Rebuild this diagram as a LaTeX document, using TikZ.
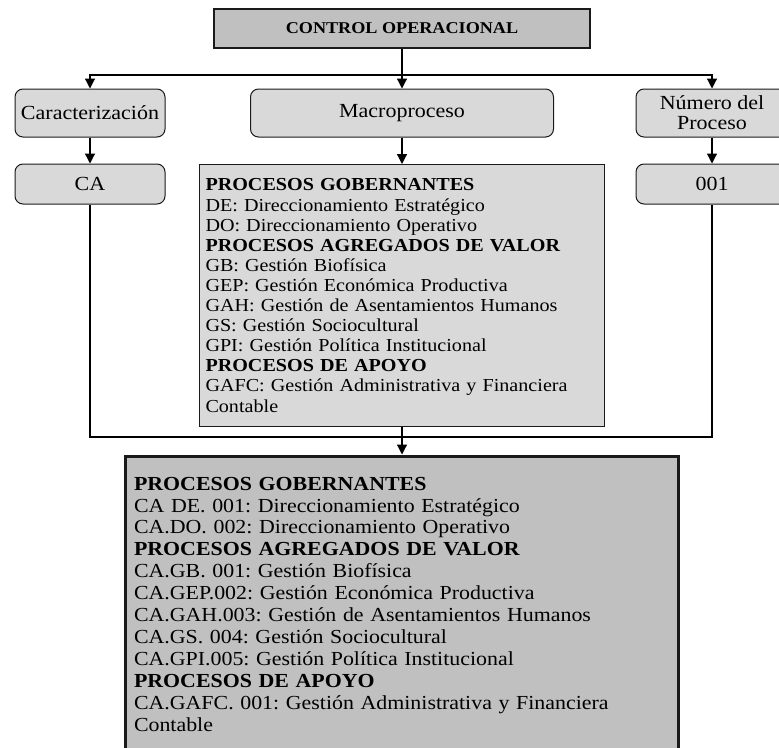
\documentclass[tikz,border=0pt]{standalone}
\usepackage{fontspec}
\setmainfont{Liberation Serif}[FakeStretch=1.1]
\usetikzlibrary{arrows.meta}
\frenchspacing
\definecolor{darkfill}{HTML}{C0C0C0}
\definecolor{lightfill}{HTML}{D9D9D9}
\definecolor{edge}{HTML}{1A1A1A}
\tikzset{
  line/.style={draw=black, line width=1.2pt},
  arr/.style={line, -{Triangle[width=10pt,length=10pt]}},
  titlebox/.style={draw=edge, line width=1.5pt, fill=darkfill, minimum width=376pt,
    minimum height=39pt, inner sep=0pt, font=\fontsize{16.5}{18}\selectfont\bfseries},
  roundbox/.style={draw=edge, line width=1pt, fill=lightfill, rounded corners=8pt,
    inner sep=2pt, align=center, font=\fontsize{20}{20}\selectfont},
  listbox/.style={draw=edge, line width=1pt, fill=lightfill, text width=393pt,
    inner xsep=6pt, inner ysep=0pt, minimum height=262pt, align=left,
    font=\fontsize{18.3}{20.1}\selectfont},
  resultbox/.style={draw=edge, line width=3pt, fill=darkfill, text width=536pt,
    inner xsep=8.5pt, inner ysep=21pt, align=left,
    font=\fontsize{19.9}{21.9}\selectfont}
}
\begin{document}
\begin{tikzpicture}[x=1pt,y=-1pt]
\clip (0,0) rectangle (779,747);
\fill[white] (0,0) rectangle (779,747);

\node[titlebox] (top) at (402,28.5) {CONTROL OPERACIONAL};

\node[roundbox, minimum width=150pt, minimum height=48pt] (carac) at (90,113) {Caracterización};
\node[roundbox, minimum width=303pt, minimum height=48pt] (macro) at (402,113) {Macroproceso};
\node[roundbox, minimum width=152pt, minimum height=48pt] (num) at (712,113) {Número del\\Proceso};

\node[roundbox, minimum width=150pt, minimum height=40pt] (ca) at (90,184) {CA};
\node[roundbox, minimum width=152pt, minimum height=40pt] (n001) at (712,184) {001};

\node[listbox, anchor=north] (list) at (402,164) {%
\textbf{PROCESOS GOBERNANTES}\\
DE: Direccionamiento Estratégico\\
DO: Direccionamiento Operativo\\
\textbf{PROCESOS AGREGADOS DE VALOR}\\
GB: Gestión Biofísica\\
GEP: Gestión Económica Productiva\\
GAH: Gestión de Asentamientos Humanos\\
GS: Gestión Sociocultural\\
GPI: Gestión Política Institucional\\
\textbf{PROCESOS DE APOYO}\\
GAFC: Gestión Administrativa y Financiera\\
Contable};

\node[resultbox, anchor=north] (result) at (402,454.5) {%
\textbf{PROCESOS GOBERNANTES}\\
CA DE. 001: Direccionamiento Estratégico\\
CA.DO. 002: Direccionamiento Operativo\\
\textbf{PROCESOS AGREGADOS DE VALOR}\\
CA.GB. 001: Gestión Biofísica\\
CA.GEP.002: Gestión Económica Productiva\\
CA.GAH.003: Gestión de Asentamientos Humanos\\
CA.GS. 004: Gestión Sociocultural\\
CA.GPI.005: Gestión Política Institucional\\
\textbf{PROCESOS DE APOYO}\\
CA.GAFC. 001: Gestión Administrativa y Financiera\\
Contable\\[14pt]\mbox{}};

% branching points of the connectors
\coordinate (split) at (402,75);
\coordinate (join) at (402,437);

\draw[line] (top.south) -- (split);
\draw[arr] (split) -| (carac.north);
\draw[arr] (split) -| (num.north);
\draw[arr] (split) -- (macro.north);

\draw[arr] (carac) -- (ca);
\draw[arr] (num) -- (n001);
\draw[arr] (macro) -- (list);

\draw[line] (ca.south) |- (join) -| (n001.south);
\draw[arr] (list.south) -- (result.north);
\end{tikzpicture}
\end{document}
